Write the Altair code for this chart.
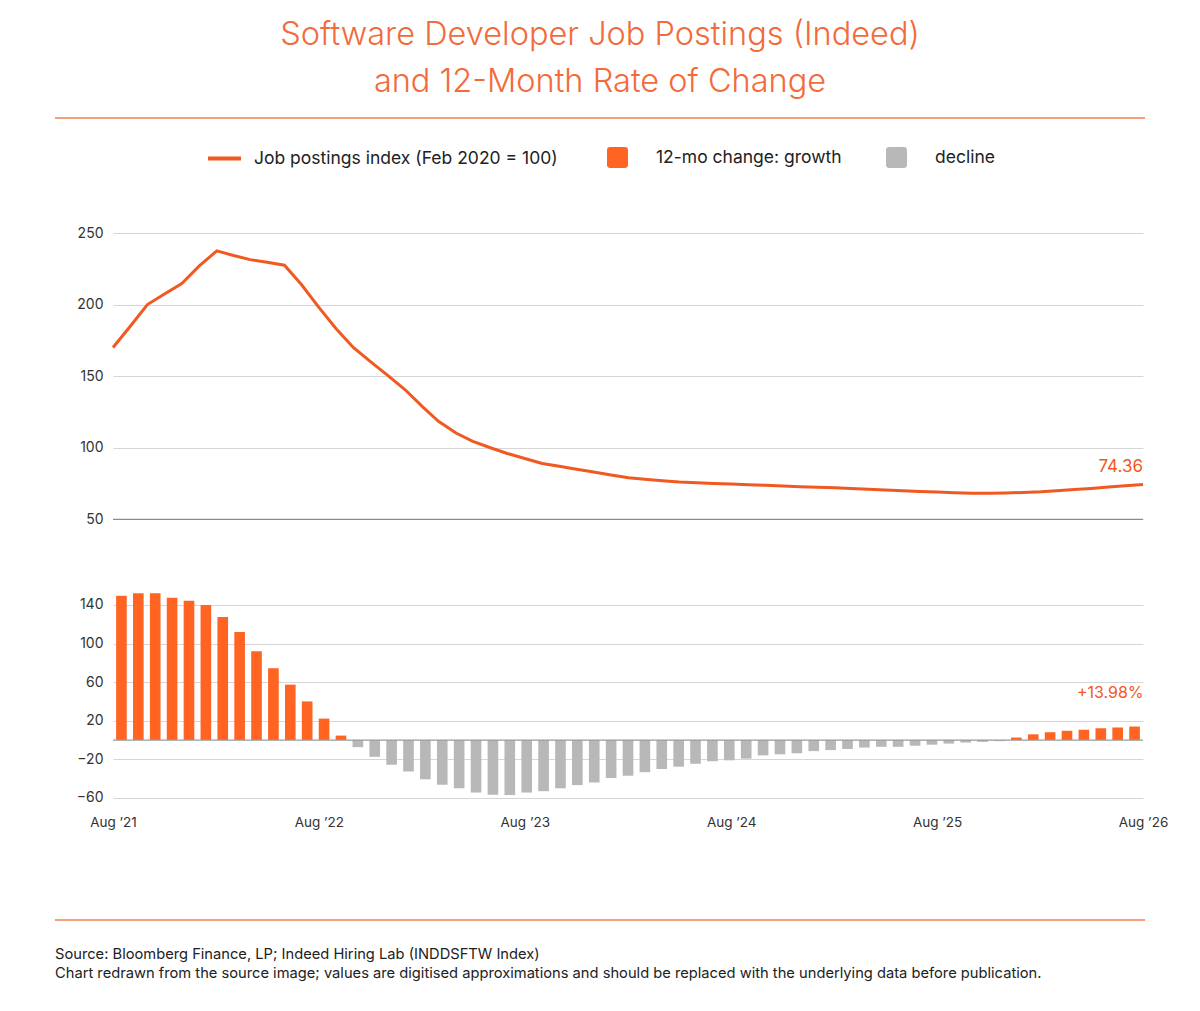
import altair as alt
import pandas as pd

# ---------------- data ----------------
months = pd.date_range("2021-08-01", "2026-08-01", freq="MS")
month_iso = [d.strftime("%Y-%m-%dT00:00:00") for d in months]
month_key = [d.strftime("%Y-%m") for d in months]

index_values = [
    170, 185, 200, 207.5, 214.7, 227, 237.5, 234.5, 231.4, 229.5,
    227.5, 214, 198, 183, 170, 160, 150.5, 140.5, 128.5, 118.5,
    110.3, 104.5, 100, 96, 92.5, 89, 87, 85, 83, 81,
    79, 78, 77, 76, 75.5, 75, 74.6, 74.2, 73.7, 73.3,
    72.8, 72.4, 72, 71.5, 71, 70.5, 70, 69.5, 69, 68.5,
    68.2, 68.2, 68.4, 68.8, 69.3, 70, 70.8, 71.6, 72.5, 73.4,
    74.36,
]

change_values = [
    149.6, 152.2, 152.2, 147.4, 144.4, 140, 127.4, 111.9, 91.9, 74.4,
    57.4, 40, 22.2, 4.6, -7.4, -17.4, -25.6, -32.6, -40.7, -46.3,
    -50, -54.4, -56.7, -57, -54.4, -53, -50, -46.7, -44, -39.3,
    -37, -33.3, -30, -27.6, -24.6, -22, -21, -19.3, -15.9, -14.8,
    -13.7, -11.5, -10.4, -9.3, -7.8, -7, -7, -5.9, -4.8, -3.7,
    -2.6, -1.9, -1.1, 2.6, 5.9, 8.1, 9.6, 10.7, 12.2, 13,
    13.98,
]

LINE_LABEL = "Job postings index (Feb 2020 = 100)"
GROWTH = "12-mo change: growth"
DECLINE = "decline"

title_lines = ["Software Developer Job Postings (Indeed)", "and 12-Month Rate of Change"]
source_lines = [
    "Source: Bloomberg Finance, LP; Indeed Hiring Lab (INDDSFTW Index)",
    "Chart redrawn from the source image; values are digitised approximations and should be replaced with the underlying data before publication.",
]
x_tick_years = [2021, 2022, 2023, 2024, 2025, 2026]
top_ticks = [50, 100, 150, 200, 250]
bottom_ticks = [-60, -20, 20, 60, 100, 140]

df = pd.DataFrame({
    "date": month_iso,
    "month": month_key,
    "index": index_values,
    "change": change_values,
})
df["series"] = LINE_LABEL
df["kind"] = [GROWTH if v >= 0 else DECLINE for v in change_values]

# ---------------- styling ----------------
FONT = "Inter"
LINE_ORANGE = "#F05A22"
BAR_ORANGE = "#FF6422"
BAR_GRAY = "#B8B8B8"
TITLE_ORANGE = "#F26B3A"
RULE_ORANGE = "#F2804F"
GRID = "#D6D6D6"
LABEL = "#333333"

W, H = 1030, 577

rounded_square = ("M -0.7,-1 L 0.7,-1 Q 1,-1 1,-0.7 L 1,0.7 Q 1,1 0.7,1 "
                  "L -0.7,1 Q -1,1 -1,0.7 L -1,-0.7 Q -1,-1 -0.7,-1 Z")

# ---------------- top panel: index line ----------------
x_time = alt.X(
    "date:T",
    scale=alt.Scale(
        domain=[alt.DateTime(year=2021, month=8, date=1),
                alt.DateTime(year=2026, month=8, date=1)],
        nice=False,
    ),
    axis=alt.Axis(
        orient="bottom",
        values=[alt.DateTime(year=y, month=8, date=1) for y in x_tick_years],
        format="%b \u2019%y",
        title=None, grid=False, domain=False, ticks=False,
        labelPadding=5, labelFontSize=13.5, labelColor=LABEL,
        labelFlush=False, labelOverlap=False, labelFont=FONT,
    ),
)

y_top = alt.Y(
    "index:Q",
    scale=alt.Scale(domain=[50, 250], range=[286.3, 0], nice=False, zero=False),
    axis=alt.Axis(
        orient="left", values=top_ticks, title=None, domain=False, ticks=False,
        grid=True, gridColor=GRID, labelPadding=10, labelFontSize=14,
        labelColor=LABEL, labelFont=FONT,
    ),
)

line = alt.Chart(df).mark_line(strokeWidth=3).encode(
    x=x_time,
    y=y_top,
    stroke=alt.Stroke(
        "series:N",
        scale=alt.Scale(domain=[LINE_LABEL], range=[LINE_ORANGE]),
        legend=alt.Legend(
            orient="none", legendX=93, legendY=-93, title=None, padding=0,
            symbolType="stroke", symbolSize=1089, symbolStrokeWidth=4,
            labelFontSize=17.5, labelOffset=11, labelColor="#222222", labelFont=FONT,
            labelLimit=0,
        ),
    ),
)

base50 = alt.Chart(pd.DataFrame({"v": [50]})).mark_rule(
    color="#8C8C8C", strokeWidth=1.2
).encode(y=alt.datum(50))

end_label = alt.Chart(df.tail(1)).mark_text(
    align="right", baseline="bottom", dy=-8, fontSize=17, color=LINE_ORANGE, font=FONT
).encode(
    x=alt.X("date:T"),
    y=alt.Y("index:Q"),
    text=alt.Text("index:Q", format=".2f"),
)

top = alt.layer(line, base50, end_label)

# ---------------- bottom panel: 12-month change bars ----------------
x_band = alt.X(
    "month:O",
    scale=alt.Scale(paddingInner=0.37, paddingOuter=0.185),
    axis=None,
)

y_bot = alt.Y(
    "change:Q",
    scale=alt.Scale(domain=[-70, 160], range=[574.6, 352.6], nice=False),
    axis=alt.Axis(
        orient="left", values=bottom_ticks, title=None, domain=False, ticks=False,
        grid=True, gridColor=GRID, labelPadding=10, labelFontSize=14,
        labelColor=LABEL, labelFont=FONT,
    ),
)

bars = alt.Chart(df).mark_bar().encode(
    x=x_band,
    y=y_bot,
    fill=alt.Fill(
        "kind:N",
        scale=alt.Scale(domain=[GROWTH, DECLINE], range=[BAR_ORANGE, BAR_GRAY]),
        legend=alt.Legend(
            orient="none", legendX=494, legendY=-86, title=None, padding=0,
            direction="horizontal", symbolType=rounded_square, symbolSize=441,
            symbolStrokeWidth=0, symbolOpacity=1, columnPadding=44,
            labelFontSize=17.5, labelOffset=28, labelColor="#222222", labelFont=FONT,
            labelLimit=0,
        ),
    ),
)

zero_rule = alt.Chart(pd.DataFrame({"v": [0]})).mark_rule(
    color="#9A9A9A", strokeWidth=1.2
).encode(y=alt.datum(0))

bar_label = alt.Chart(df.tail(1)).transform_calculate(
    lbl="'+' + format(datum.change, '.2f') + '%'"
).mark_text(
    align="right", baseline="bottom", dx=9, dy=-26, fontSize=16,
    color=LINE_ORANGE, font=FONT
).encode(
    x=alt.X("month:O"),
    y=alt.Y("change:Q"),
    text="lbl:N",
)

# ---------------- decorations: title, separators, source ----------------
deco_df = pd.DataFrame({"k": [0]})
deco = alt.Chart(deco_df)

title1 = deco.mark_text(fontSize=32.5, fontWeight=300, color=TITLE_ORANGE, font=FONT,
                        baseline="middle", align="center").encode(
    x=alt.value(487), y=alt.value(-198), text=alt.value(title_lines[0]))
title2 = deco.mark_text(fontSize=32.5, fontWeight=300, color=TITLE_ORANGE, font=FONT,
                        baseline="middle", align="center").encode(
    x=alt.value(487), y=alt.value(-151), text=alt.value(title_lines[1]))
rule_top = deco.mark_rule(color=RULE_ORANGE, strokeWidth=1.5).encode(
    x=alt.value(-58), x2=alt.value(1032), y=alt.value(-115))
rule_bot = deco.mark_rule(color=RULE_ORANGE, strokeWidth=1.5).encode(
    x=alt.value(-58), x2=alt.value(1032), y=alt.value(687))
src1 = deco.mark_text(fontSize=14.7, color="#222222", font=FONT, align="left",
                      baseline="middle").encode(
    x=alt.value(-58), y=alt.value(722), text=alt.value(source_lines[0]))
src2 = deco.mark_text(fontSize=14.7, color="#222222", font=FONT, align="left",
                      baseline="middle").encode(
    x=alt.value(-58), y=alt.value(741), text=alt.value(source_lines[1]))

bottom = alt.layer(bars, zero_rule, bar_label, title1, title2, rule_top, rule_bot, src1, src2)

chart = alt.layer(top, bottom).resolve_scale(
    x="independent", y="independent"
).properties(
    width=W,
    height=H,
    background="white",
    padding={"left": 105, "top": 225, "right": 45, "bottom": 185},
    autosize=alt.AutoSizeParams(type="none"),
).configure_view(strokeWidth=0, stroke=None)

chart.save("out.html", embed_options={"renderer": "svg", "actions": False})
